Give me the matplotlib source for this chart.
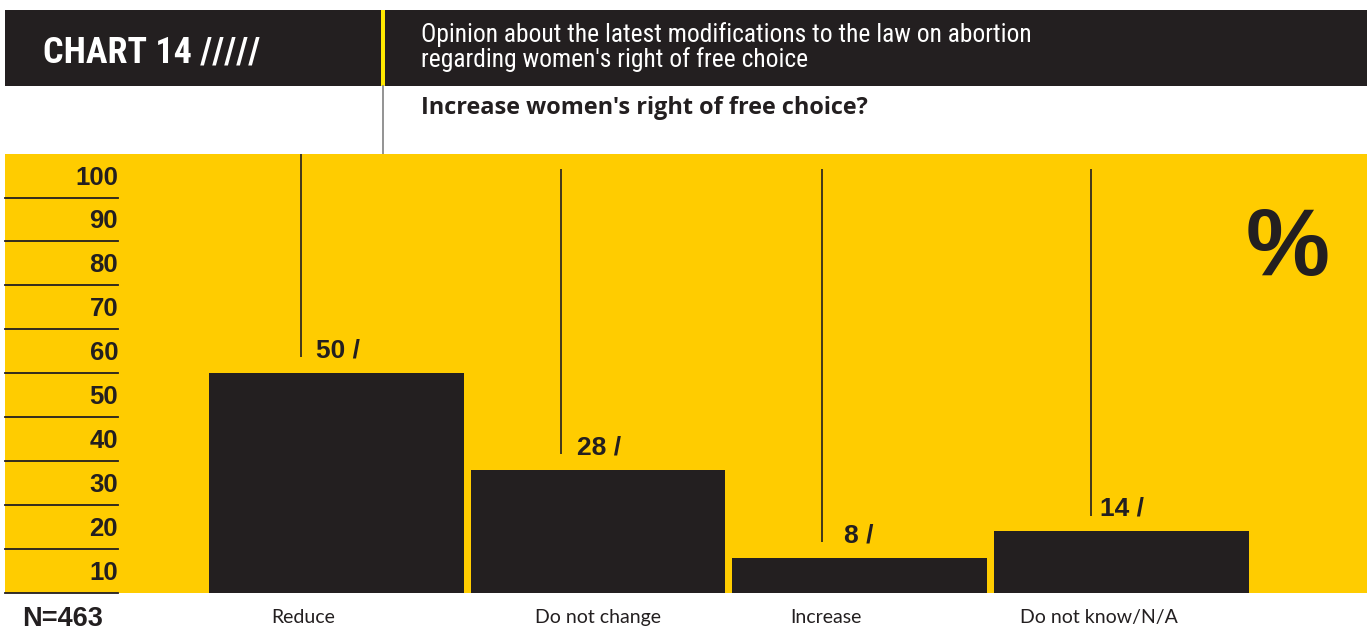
import matplotlib
matplotlib.use("Agg")
import matplotlib.pyplot as plt
from matplotlib import font_manager
from matplotlib.patches import Rectangle
from matplotlib.transforms import blended_transform_factory

# survey answers (%)
categories = ["Reduce", "Do not change", "Increase", "Do not know/N/A"]
values = [50, 28, 8, 14]
scale_ticks = [10, 20, 30, 40, 50, 60, 70, 80, 90, 100]
sample_size = 463

title = "CHART 14 /////"
subtitle = ["Opinion about the latest modifications to the law on abortion",
            "regarding women's right of free choice"]
question = "Increase women's right of free choice?"

YELLOW = "#FFCC00"
DARK = "#231F20"

installed = {f.name for f in font_manager.fontManager.ttflist}
NARROW = next((f for f in ["Roboto Condensed", "Liberation Sans Narrow", "Open Sans Condensed"]
               if f in installed), "Liberation Sans")
HELV = "Liberation Sans"
HUMAN = "Open Sans"
LABELS = "Lato" if "Lato" in installed else "Open Sans"

W, H = 1367, 633
fig = plt.figure(figsize=(W / 100, H / 100), dpi=100, facecolor="white")

# page layer in pixel units, y pointing down
bg = fig.add_axes([0, 0, 1, 1])
bg.set_xlim(0, W)
bg.set_ylim(H, 0)
bg.axis("off")

bg.add_patch(Rectangle((5, 10), W - 5, 76, color=DARK, lw=0))
bg.add_patch(Rectangle((381, 10), 4, 76, color="#FFE800", lw=0))
bg.plot([383, 383], [86, 154], color="#8A8A8A", lw=1.3)

narrow = NARROW != "Liberation Sans"
bg.text(43, 62.7, title, color="white", family=NARROW, weight="bold",
        fontsize=26 if narrow else 24.5, va="baseline")
for k, line in enumerate(subtitle):
    bg.text(421, 42.3 + 24.4 * k, line, color="white", family=NARROW,
            fontsize=18.4 if narrow else 16.5, va="baseline")
bg.text(421, 114, question, color=DARK, family=HUMAN, weight="bold",
        fontsize=16.9, va="baseline")
bg.text(22, 626.5, f"N={sample_size}", color=DARK, family=HELV, weight="bold",
        fontsize=19.5, va="baseline")

# chart area: y in percent, x in category slots
left, right, top, bottom = 5, W, 153.6, 593
ax = fig.add_axes([left / W, (H - bottom) / H, (right - left) / W, (bottom - top) / H])
ax.set_facecolor(YELLOW)
for s in ax.spines.values():
    s.set_visible(False)
ax.set_xticks([])
ax.set_yticks([])
ax.set_ylim(0, 100)
slot = 261.7
x0 = -(336.3 - left) / slot
ax.set_xlim(x0, x0 + (right - left) / slot)

xs = list(range(len(categories)))
ax.bar(xs, values, width=0.973, color=DARK, zorder=2)

# scale: rules every 10, label sits inside the band below its value
scale_frac = (118 - left) / (right - left)
ytrans = blended_transform_factory(ax.transAxes, ax.transData)
for t in scale_ticks:
    ax.axhline(t - 10, xmin=0, xmax=scale_frac, color=DARK, lw=1.3, clip_on=False)
    ax.text(scale_frac, t - 5.45, str(t), transform=ytrans, ha="right", va="center",
            family=HELV, weight="bold", fontsize=18.5, color=DARK)

# leader lines and value labels
line_off = [-0.135, -0.140, -0.143, -0.115]
line_top = [100, 96.5, 96.5, 96.5]
label_gap = [11, 11, 16, 6]
for i, v in enumerate(values):
    xl = i + line_off[i]
    ax.vlines(xl, v + 3.6, line_top[i], color=DARK, lw=1.2)
    ax.annotate(f"{v} /", xy=(xl, v + 3.6), xytext=(label_gap[i], 0),
                textcoords="offset points", va="baseline", ha="left",
                family=HELV, weight="bold", fontsize=19, color=DARK)

# category names under the bars
name_off = [-0.128, 0.0, -0.129, -0.086]
for i, name in enumerate(categories):
    ax.text(i + name_off[i], -6.8, name, ha="center", va="baseline",
            family=LABELS, fontsize=14, color=DARK, clip_on=False)

# unit sign in the upper right of the yellow field
ax.text(1287.5, 251, "%", transform=bg.transData, ha="center", va="center",
        family=HELV, weight="bold", fontsize=68, color=DARK, zorder=5)

fig.savefig("out.png", dpi=100, facecolor="white")
